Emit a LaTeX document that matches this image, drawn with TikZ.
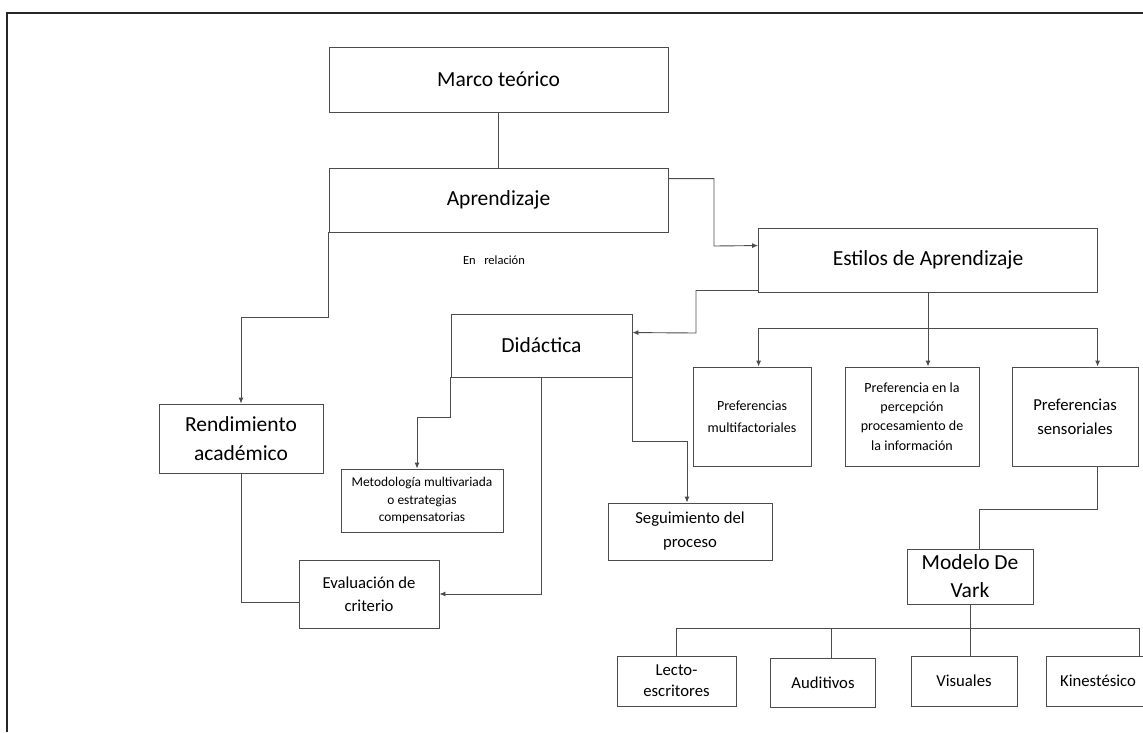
\documentclass[tikz,border=0pt]{standalone}
\usepackage{fontspec}
\setmainfont{Carlito}
\usetikzlibrary{arrows.meta,calc}
\tikzset{
  box/.style={draw=black!70, line width=0.9pt, inner sep=0pt, align=center, text=black},
  big/.style={font=\fontsize{21.5}{29}\selectfont},
  mid/.style={font=\fontsize{16.7}{23}\selectfont},
  small/.style={font=\fontsize{14}{19.3}\selectfont},
  conn/.style={draw=black!70, line width=0.9pt},
  arr/.style={conn, -{Latex[length=6pt,width=5pt]}},
}
\begin{document}
\begin{tikzpicture}[x=1pt,y=-1pt]
\useasboundingbox (0,0) rectangle (1143,732);
% frame
\draw[line width=2pt, black!85] (7,732) -- (7,13) -- (1143,13);

% nodes
\node[box,big,minimum width=339pt,minimum height=65pt] (marco) at (498.5,79.5) {Marco teórico};
\node[box,big,minimum width=339pt,minimum height=64pt] (apr) at (498.5,200) {Aprendizaje};
\node[box,big,minimum width=339pt,minimum height=64pt] (estilos) at (928,260) {Estilos de Aprendizaje};
\node[box,big,minimum width=181pt,minimum height=63pt] (did) at (541.5,345.5) {Didáctica};
\node[box,font=\fontsize{21.5}{29}\selectfont,minimum width=164pt,minimum height=69pt] (rend) at (241,438.5) {Rendimiento\\académico};
\node[box,font=\fontsize{13.4}{17.2}\selectfont,minimum width=162pt,minimum height=63pt] (metod) at (422,500.5) {Metodología multivariada\\o estrategias\\compensatorias};
\node[box,font=\fontsize{16.7}{22.7}\selectfont,minimum width=140pt,minimum height=68pt] (eval) at (369,594) {Evaluación de\\criterio};
\node[box,font=\fontsize{16.7}{24}\selectfont,minimum width=164pt,minimum height=57pt] (seg) at (690,531.5) {Seguimiento del\\proceso};
\node[box,font=\fontsize{14}{21.7}\selectfont,minimum width=118pt,minimum height=99pt] (pmulti) at (752,416.5) {Preferencias\\multifactoriales};
\node[box,font=\fontsize{14}{19.3}\selectfont,minimum width=134pt,minimum height=99pt] (ppercep) at (912,416.5) {Preferencia en la\\percepción\\procesamiento de\\la información};
\node[box,font=\fontsize{16.7}{23.7}\selectfont,minimum width=126pt,minimum height=99pt] (psens) at (1075,416.5) {Preferencias\\sensoriales};
\node[box,font=\fontsize{21.5}{28}\selectfont,minimum width=126pt,minimum height=55pt] (modelo) at (970,576.5) {Modelo De\\Vark};
\node[box,font=\fontsize{16.7}{21}\selectfont,minimum width=119pt,minimum height=50pt] (lecto) at (676.5,681) {Lecto-\\escritores};
\node[box,mid,minimum width=104.5pt,minimum height=49pt] (audit) at (823,682.5) {Auditivos};
\node[box,mid,minimum width=106pt,minimum height=50pt] (visu) at (964,681) {Visuales};
\node[box,mid,minimum width=104pt,minimum height=50pt] (kine) at (1098,681) {Kinestésico};

\node[text=black,font=\fontsize{12.5}{15}\selectfont,inner sep=0pt] (enrel) at (494,260) {En\ \ \ relación};

% connectors
\draw[conn] (marco) -- (apr);
\draw[arr] ($(apr.north east)+(0,11)$) -| (714,246) -- ($(estilos.north west)+(0,18)$);
\draw[arr] ($(estilos.south west)+(0,-2)$) -| (696,333) -- ($(did.north east)+(0,19)$);
\draw[arr] (apr.south west) -- ++(0,85) -| (rend.north);

\coordinate (bl) at (758.6,328);
\coordinate (br) at (1097.6,328);
\draw[arr] (estilos.south) -- (estilos.south |- ppercep.north);
\draw[conn] (bl) -- (br);
\draw[arr] (bl) -- (bl |- pmulti.north);
\draw[arr] (br) -- (br |- psens.north);

\coordinate (mtop) at (979,509);
\draw[conn] (br |- psens.south) |- (mtop) -- (mtop |- modelo.north);

\coordinate (vl) at (676.5,628);
\coordinate (va) at (831,628);
\coordinate (vr) at (1139,628);
\draw[conn] (modelo.south) -- (modelo.south |- vl);
\draw[conn] (vl) -- (vr);
\draw[conn] (vl) -- (lecto.north);
\draw[conn] (va) -- (va |- audit.north);
\draw[conn] (modelo.south |- vl) -- (modelo.south |- visu.north);
\draw[conn] (vr) -- (vr |- kine.north);

\draw[arr] (did.south west) -- ++(0,40) -| ($(metod.north)+(-5,0)$);
\draw[arr] (did.south) |- (eval.east);
\draw[arr] (did.south east) -- ++(0,64) -| ($(seg.north)+(-3,0)$);
\draw[conn] (rend.south) |- ($(eval.south west)+(0,-26)$);
\end{tikzpicture}
\end{document}
